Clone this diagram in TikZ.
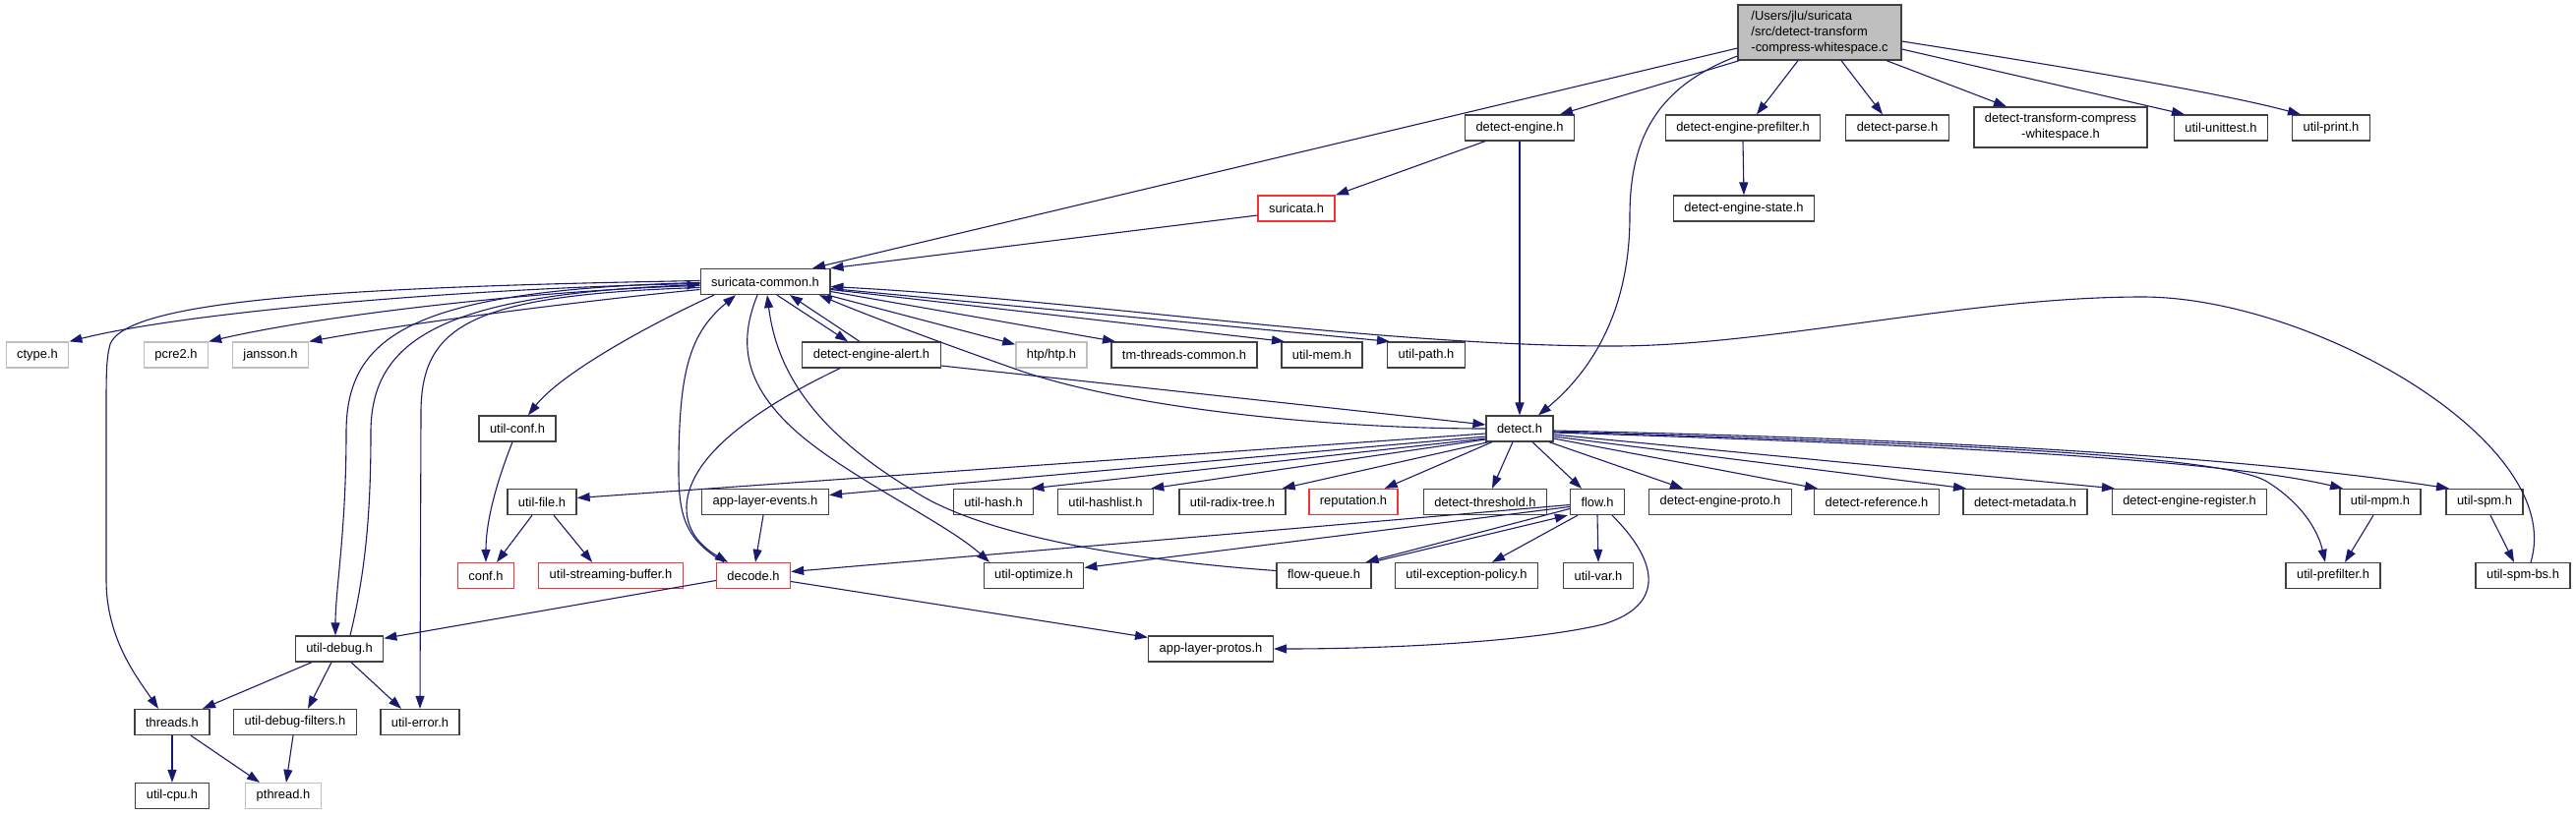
\documentclass[tikz,border=0pt]{standalone}
\usepackage{fontspec}
\setmainfont{Liberation Sans}
\usetikzlibrary{arrows.meta}
\definecolor{edgeblue}{RGB}{25,25,112}
\definecolor{boxgray}{RGB}{64,64,64}
\definecolor{sysgray}{RGB}{191,191,191}
\definecolor{truncred}{RGB}{245,50,50}
\definecolor{mainfill}{RGB}{191,191,191}

\begin{document}
\begin{tikzpicture}[x=1pt,y=-1pt,
  hdr/.style={draw=boxgray, line width=1.3pt, fill=white, minimum height=26pt,
    inner xsep=11pt, inner ysep=0pt, font={\fontsize{12.9}{16.2}\selectfont}},
  hdrred/.style={hdr, draw=truncred},
  hdrgray/.style={hdr, draw=sysgray},
  inc/.style={draw=edgeblue, line width=1.1pt, -{Triangle[length=13pt,width=9pt]}}]
\useasboundingbox (0,0) rectangle (2619,828);

\node[hdr, fill=mainfill, align=left, minimum height=56pt, minimum width=166pt] (src) at (1850,33)
  {/Users/jlu/suricata\\/src/detect-transform\\-compress-whitespace.c};
\node[hdr] (eng) at (1545,130) {detect-engine.h};
\node[hdr] (engpf) at (1772,130) {detect-engine-prefilter.h};
\node[hdr] (parse) at (1929,130) {detect-parse.h};
\node[hdr, align=center, minimum height=41pt] (tfh) at (2095,129.5) {detect-transform-compress\\-whitespace.h};
\node[hdr] (unittest) at (2258,130) {util-unittest.h};
\node[hdr] (uprint) at (2370,130) {util-print.h};
\node[hdrred] (suri) at (1318,212) {suricata.h};
\node[hdr] (engstate) at (1773,212) {detect-engine-state.h};
\node[hdr] (common) at (778,286.5) {suricata-common.h};
\node[hdrgray] (ctype) at (38,361) {ctype.h};
\node[hdrgray] (pcre) at (179,361) {pcre2.h};
\node[hdrgray] (jansson) at (275,361) {jansson.h};
\node[hdr] (alert) at (886,361) {detect-engine-alert.h};
\node[hdrgray] (htp) at (1069,361) {htp/htp.h};
\node[hdr] (tmcommon) at (1204,361) {tm-threads-common.h};
\node[hdr] (umem) at (1344,361) {util-mem.h};
\node[hdr] (upath) at (1450,361) {util-path.h};
\node[hdr] (uconf) at (526,436) {util-conf.h};
\node[hdr] (detect) at (1545,436) {detect.h};
\node[hdr] (ufile) at (551,510.5) {util-file.h};
\node[hdr] (events) at (778,510.5) {app-layer-events.h};
\node[hdr] (uhash) at (1010,510.5) {util-hash.h};
\node[hdr] (uhashlist) at (1124,510.5) {util-hashlist.h};
\node[hdr] (radix) at (1253,510.5) {util-radix-tree.h};
\node[hdrred] (rep) at (1376,510.5) {reputation.h};
\node[hdr] (thresh) at (1510,510.5) {detect-threshold.h};
\node[hdr] (flow) at (1624,510.5) {flow.h};
\node[hdr] (proto) at (1749,510.5) {detect-engine-proto.h};
\node[hdr] (ref) at (1908,510.5) {detect-reference.h};
\node[hdr] (meta) at (2059,510.5) {detect-metadata.h};
\node[hdr] (reg) at (2226,510.5) {detect-engine-register.h};
\node[hdr] (mpm) at (2420,510.5) {util-mpm.h};
\node[hdr] (spm) at (2526,510.5) {util-spm.h};
\node[hdrred] (conf) at (494,585.5) {conf.h};
\node[hdrred] (sbuf) at (621,585.5) {util-streaming-buffer.h};
\node[hdrred] (decode) at (766,585.5) {decode.h};
\node[hdr] (optim) at (1051,585.5) {util-optimize.h};
\node[hdr] (fqueue) at (1346,585.5) {flow-queue.h};
\node[hdr] (excpol) at (1491,585.5) {util-exception-policy.h};
\node[hdr] (uvar) at (1625,585.5) {util-var.h};
\node[hdr] (prefilt) at (2372,585.5) {util-prefilter.h};
\node[hdr] (spmbs) at (2565,585.5) {util-spm-bs.h};
\node[hdr] (udebug) at (345,660) {util-debug.h};
\node[hdr] (protos) at (1231,660) {app-layer-protos.h};
\node[hdr] (threads) at (175,734.5) {threads.h};
\node[hdr] (dbgfilt) at (300,734.5) {util-debug-filters.h};
\node[hdr] (uerror) at (427,734.5) {util-error.h};
\node[hdr] (ucpu) at (175,809.5) {util-cpu.h};
\node[hdrgray] (pthread) at (288,809.5) {pthread.h};

% source file
\draw[inc] ([yshift=-16pt]src.west) -- ([xshift=48pt]common.north);
\draw[inc] ([xshift=2pt]src.south west) -- ([xshift=41pt]eng.north);
\draw[inc] ([yshift=-24pt]src.west) .. controls (1685,88) and (1657,140) .. (1657,220)
  .. controls (1657,320) and (1615,380) .. ([xshift=19pt]detect.north);
\draw[inc] ([xshift=-22pt]src.south) -- ([xshift=14pt]engpf.north);
\draw[inc] ([xshift=22pt]src.south) -- ([xshift=-15pt]parse.north);
\draw[inc] ([xshift=68pt]src.south) -- ([xshift=-55pt]tfh.north);
\draw[inc] ([yshift=-17pt]src.east) -- ([xshift=-37pt]unittest.north);
\draw[inc] ([yshift=-9pt]src.east) .. controls (2100,68) and (2260,95) .. ([xshift=-31pt]uprint.north);

\draw[inc] ([xshift=-35pt]eng.south) -- ([xshift=40pt]suri.north);
\draw[inc] (eng.south) -- (detect.north);
\draw[inc] (engpf.south) -- (engstate.north);
\draw[inc] ([yshift=-7pt]suri.west) -- (common.north east);

% suricata-common.h
\draw[inc] ([yshift=-2pt]common.west) .. controls (500,292) and (200,315) .. (ctype.north east);
\draw[inc] ([yshift=-4pt]common.west) .. controls (550,295) and (330,320) .. (pcre.north east);
\draw[inc] ([yshift=-8pt]common.west) .. controls (600,305) and (420,328) .. (jansson.north east);
\draw[inc] ([yshift=1pt]common.west) .. controls (350,292) and (130,305) .. (112,350)
  .. controls (108,365) and (108,380) .. (108,420) -- (108,590)
  .. controls (108,650) and (140,690) .. ([xshift=-14pt]threads.north);
\draw[inc] ([yshift=-1pt]common.west) .. controls (420,295) and (352,340) .. (352,440)
  .. controls (352,540) and (341,600) .. ([xshift=-4pt]udebug.north);
\draw[inc] ([xshift=11pt]udebug.north) .. controls (372,580) and (377,520) .. (377,440)
  .. controls (377,345) and (450,300) .. ([yshift=-3pt]common.west);
\draw[inc] ([yshift=-6pt]common.west) .. controls (480,300) and (428,330) .. (428,420) -- (uerror.north);
\draw[inc] ([xshift=-52pt]common.south) .. controls (660,330) and (570,380) .. ([xshift=11pt]uconf.north);
\draw[inc] ([xshift=-30pt]decode.north) .. controls (700,550) and (690,530) .. (690,480)
  .. controls (690,380) and (700,340) .. ([xshift=-30pt]common.south);
\draw[inc] ([xshift=-8pt]common.south) .. controls (752,345) and (755,385) .. (800,430)
  .. controls (850,480) and (960,530) .. ([xshift=-45pt]optim.north);
\draw[inc] ([yshift=5pt]fqueue.west) .. controls (1150,570) and (1000,545) .. (930,500)
  .. controls (830,440) and (790,380) .. ([xshift=2pt]common.south);
\draw[inc] ([xshift=12pt]common.south) -- ([xshift=-24pt]alert.north);
\draw[inc] ([xshift=-12pt]alert.north) -- ([xshift=25pt]common.south);
\draw[inc] (detect.west) .. controls (1350,436) and (1150,415) .. (1040,378)
  .. controls (960,350) and (880,320) .. ([xshift=55pt]common.south);
\draw[inc] ([xshift=-3pt]common.south east) -- ([yshift=-3pt]htp.north west);
\draw[inc] ([yshift=-10pt]common.east) -- ([xshift=-70pt]tmcommon.north);
\draw[inc] ([yshift=-8pt]common.east) -- ([xshift=-38pt]umem.north);
\draw[inc] ([yshift=-7pt]common.east) -- ([xshift=-37pt]upath.north);
\draw[inc] ([xshift=8pt]spmbs.north) .. controls (2610,450) and (2350,302) .. (2178,302)
  .. controls (2000,302) and (1800,352) .. (1640,352)
  .. controls (1400,352) and (1100,305) .. ([yshift=-5pt]common.east);

% detect-engine-alert.h
\draw[inc] ([xshift=-32pt]alert.south) .. controls (780,410) and (700,460) .. (698,515)
  .. controls (697,545) and (720,560) .. ([xshift=-26pt]decode.north);
\draw[inc] ([yshift=-11pt]alert.east) -- ([yshift=4pt]detect.west);

% detect.h
\draw[inc] ([yshift=-5pt]detect.west) -- ([yshift=4pt]ufile.east);
\draw[inc] ([yshift=-8pt]detect.west) -- ([yshift=7pt]events.east);
\draw[inc] ([yshift=-10pt]detect.west) -- ([xshift=-3pt]uhash.north east);
\draw[inc] ([yshift=-11pt]detect.west) -- ([xshift=-3pt]uhashlist.north east);
\draw[inc] ([xshift=3pt]detect.south west) -- ([xshift=-4pt]radix.north east);
\draw[inc] ([xshift=-28pt]detect.south) -- ([xshift=-14pt]rep.north east);
\draw[inc] ([xshift=-7pt]detect.south) -- ([xshift=7pt]thresh.north);
\draw[inc] ([xshift=13pt]detect.south) -- ([xshift=-16pt]flow.north);
\draw[inc] ([xshift=30pt]detect.south) -- ([xshift=-38pt]proto.north);
\draw[inc] ([yshift=-10pt]detect.east) -- ([xshift=-60pt]ref.north);
\draw[inc] ([yshift=-8pt]detect.east) -- ([xshift=-60pt]meta.north);
\draw[inc] ([yshift=-6pt]detect.east) -- ([xshift=-76pt]reg.north);
\draw[inc] ([yshift=-4pt]detect.east) .. controls (1900,450) and (2250,465) .. ([xshift=-38pt]mpm.north);
\draw[inc] ([yshift=-2pt]detect.east) .. controls (1900,445) and (2250,460) .. ([xshift=-36pt]spm.north);
\draw[inc] ([yshift=-3pt]detect.east) .. controls (1950,450) and (2260,462) .. (2305,490)
  .. controls (2345,515) and (2358,545) .. ([xshift=-8pt]prefilt.north);

% flow.h
\draw[inc] ([yshift=-3pt]flow.west) -- ([yshift=4pt]decode.east);
\draw[inc] ([yshift=-5pt]flow.west) -- ([yshift=8pt]optim.east);
\draw[inc] ([yshift=-7pt]flow.west) -- ([xshift=-6pt]fqueue.north east);
\draw[inc] (fqueue.north east) -- ([xshift=-2pt]flow.south west);
\draw[inc] ([xshift=-20pt]flow.south) -- ([xshift=26pt]excpol.north);
\draw[inc] (flow.south) -- (uvar.north);
\draw[inc] ([xshift=15pt]flow.south) .. controls (1685,570) and (1695,615) .. (1630,635)
  .. controls (1560,652) and (1420,660) .. (protos.east);

% lower rows
\draw[inc] ([yshift=-5pt]decode.west) -- ([yshift=-3pt]udebug.north east);
\draw[inc] ([yshift=-6pt]decode.east) -- ([yshift=-2pt]protos.north west);
\draw[inc] ([xshift=-2pt]events.south) -- ([xshift=2pt]decode.north);
\draw[inc] ([xshift=-5pt]uconf.south) .. controls (505,490) and (494,530) .. (conf.north);
\draw[inc] ([xshift=-10pt]ufile.south) -- ([xshift=11pt]conf.north);
\draw[inc] ([xshift=12pt]ufile.south) -- ([xshift=-19pt]sbuf.north);
\draw[inc] ([xshift=-28pt]udebug.south) -- ([xshift=31pt]threads.north);
\draw[inc] ([xshift=-8pt]udebug.south) -- ([xshift=13pt]dbgfilt.north);
\draw[inc] ([xshift=12pt]udebug.south) -- ([xshift=-19pt]uerror.north);
\draw[inc] (threads.south) -- (ucpu.north);
\draw[inc] ([xshift=19pt]threads.south) -- ([xshift=-24pt]pthread.north);
\draw[inc] ([xshift=-2pt]dbgfilt.south) -- ([xshift=3pt]pthread.north);
\draw[inc] ([xshift=-7pt]mpm.south) -- ([xshift=12pt]prefilt.north);
\draw[inc] ([xshift=6pt]spm.south) -- ([xshift=-9pt]spmbs.north);
\end{tikzpicture}
\end{document}
